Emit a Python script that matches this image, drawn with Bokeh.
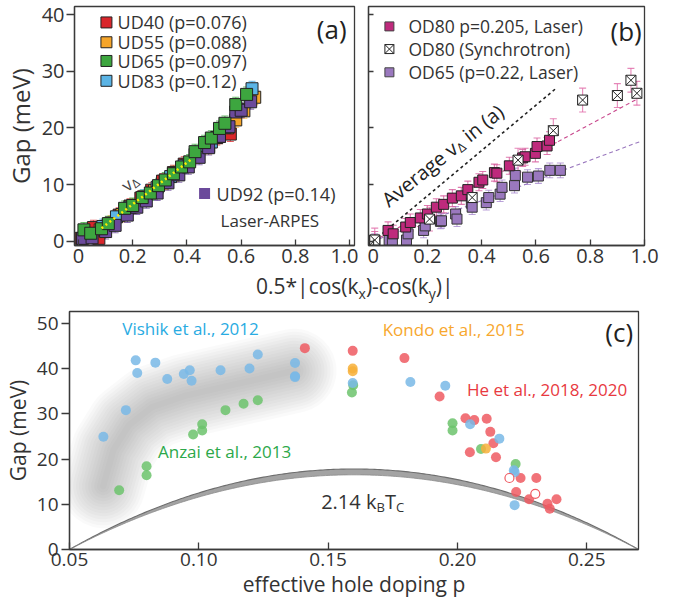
import math
import numpy as np
from bokeh.plotting import figure
from bokeh.layouts import column, row
from bokeh.models import (Range1d, FixedTicker, PrintfTickFormatter, CustomJSTickFormatter,
                          ColumnDataSource, Whisker, TeeHead, Div)
from bokeh.core.properties import value
from bokeh.embed import file_html
from bokeh.resources import INLINE

FONT = "Open Sans"

# ---------------- panel (a) data: gap vs 0.5|cos kx - cos ky| ----------------
ud40_x = [0.01, 0.055, 0.075, 0.11, 0.15, 0.19, 0.23, 0.27, 0.31, 0.35, 0.39, 0.43, 0.47, 0.51, 0.56]
ud40_y = [0.5, 2.4, 0.5, 2.9, 4.6, 6.2, 7.6, 9.0, 10.6, 12.1, 13.6, 15.3, 16.9, 18.3, 18.9]
ud55_x = [0.03, 0.08, 0.12, 0.16, 0.20, 0.24, 0.28, 0.32, 0.36, 0.40, 0.44, 0.48, 0.52, 0.55, 0.58, 0.61, 0.65]
ud55_y = [0.8, 2.0, 3.2, 4.7, 6.1, 7.5, 8.9, 10.4, 11.9, 13.4, 15.0, 16.7, 18.5, 20.0, 21.4, 23.0, 25.4]
ud65_x = [0.02, 0.045, 0.085, 0.11, 0.17, 0.20, 0.235, 0.265, 0.295, 0.32, 0.35, 0.38, 0.41, 0.43,
          0.465, 0.49, 0.52, 0.54, 0.58, 0.62]
ud65_y = [2.0, 1.4, 2.2, 3.1, 5.8, 6.3, 7.7, 8.5, 9.8, 10.8, 11.9, 13.1, 14.0, 15.8,
          17.4, 18.2, 19.9, 20.8, 24.1, 25.9]
ud83_x = [0.04, 0.09, 0.14, 0.19, 0.24, 0.29, 0.34, 0.39, 0.44, 0.49, 0.54, 0.59, 0.64]
ud83_y = [1.0, 2.6, 4.3, 6.0, 7.8, 9.5, 11.4, 13.3, 15.3, 17.5, 20.1, 23.2, 26.9]
ud92_x = [0.015, 0.05, 0.10, 0.135, 0.18, 0.215, 0.25, 0.29, 0.33, 0.37, 0.405, 0.445, 0.48,
          0.52, 0.555, 0.58, 0.60, 0.635]
ud92_y = [0.5, 0.6, 1.7, 2.8, 4.6, 6.0, 7.1, 8.5, 10.3, 11.7, 13.1, 14.8, 16.5,
          18.5, 20.2, 22.8, 23.1, 24.6]
err_a = 1.3
vline_x = [0.085, 0.42]
vline_y = [2.3, 14.6]

# ---------------- panel (b) data ----------------
od80_x = [0.006, 0.055, 0.074, 0.12, 0.137, 0.174, 0.20, 0.233, 0.26, 0.292, 0.325, 0.349, 0.39,
          0.404, 0.447, 0.456, 0.502, 0.551, 0.56, 0.598, 0.604, 0.641, 0.65]
od80_y = [0.2, 1.9, 1.3, 2.5, 3.3, 4.1, 4.8, 6.0, 6.5, 7.6, 8.0, 9.1, 10.4,
          10.8, 12.1, 12.0, 13.3, 14.7, 14.9, 15.5, 16.7, 16.8, 17.8]
od65_x = [0.006, 0.059, 0.071, 0.123, 0.129, 0.186, 0.192, 0.248, 0.252, 0.304, 0.309, 0.362,
          0.365, 0.417, 0.426, 0.468, 0.475, 0.521, 0.524, 0.569, 0.609, 0.651, 0.69]
od65_y = [0.0, 0.2, 0.2, 0.2, 1.3, 1.9, 2.7, 3.5, 3.6, 4.8, 3.9, 6.7,
          6.0, 6.8, 7.7, 8.3, 9.5, 9.8, 11.6, 11.3, 11.5, 12.5, 12.5]
sync_x = [0.006, 0.208, 0.365, 0.534, 0.664, 0.772, 0.90, 0.95, 0.972]
sync_y = [0.2, 3.9, 7.7, 14.3, 19.5, 24.9, 25.7, 28.4, 26.1]
err_od80, err_od65, err_sync = 1.5, 1.3, 2.1
avg_line_x, avg_line_y = [0.0, 0.675], [0.0, 27.0]
od80_fit_x, od80_fit_y = [0.0, 0.985], [0.0, 25.4]
od65_fit_x, od65_fit_y = [0.0, 0.985], [0.0, 17.6]

# ---------------- panel (c) data ----------------
vishik_p = [0.0631, 0.0718, 0.0756, 0.0762, 0.0832, 0.0878, 0.0942, 0.0965, 0.0972, 0.1084, 0.1196,
            0.1228, 0.1372, 0.1372, 0.1372, 0.1595, 0.1818, 0.1953, 0.2049, 0.2162, 0.2218, 0.2221, 0.2221]
vishik_gap = [24.9, 30.8, 41.8, 39.0, 41.3, 37.7, 38.8, 39.6, 37.3, 39.6, 40.0,
              43.1, 41.2, 38.3, 38.1, 36.8, 37.0, 36.2, 27.7, 24.5, 17.5, 17.1, 9.8]
anzai_p = [0.0692, 0.0798, 0.0798, 0.0978, 0.1013, 0.1013, 0.1103, 0.1173, 0.1228, 0.1597, 0.1592,
           0.1981, 0.1981, 0.2091, 0.2225]
anzai_gap = [13.1, 18.4, 16.4, 25.4, 27.7, 26.3, 30.8, 32.2, 33.0, 36.3, 34.7, 27.9, 26.3, 22.2, 18.9]
kondo_p = [0.1595, 0.1595, 0.2110]
kondo_gap = [40.0, 39.4, 22.3]
he_p = [0.141, 0.1595, 0.1795, 0.1931, 0.2031, 0.2065, 0.2113, 0.2127, 0.2139, 0.2048, 0.2149,
        0.2244, 0.2305, 0.2227, 0.2277, 0.2348, 0.2357, 0.2383]
he_gap = [44.5, 43.9, 42.3, 33.8, 29.0, 28.6, 28.9, 26.0, 23.5, 21.5, 20.4,
          15.8, 15.8, 12.7, 11.1, 10.1, 9.0, 11.1]
he_open_p = [0.2201, 0.2301]
he_open_gap = [15.8, 12.3]
blob_p = [0.063, 0.067, 0.073, 0.082, 0.095, 0.11, 0.124, 0.137]
blob_gap = [14.0, 22.0, 27.5, 31.5, 34.0, 36.0, 37.8, 39.5]
KB = 0.08617          # meV/K
TC_MAX = [89.5, 96.5]  # K, band of the 2.14 kB Tc dome
P_MIN, P_MAX = 0.05, 0.27

# ---------------- helpers ----------------
W = {' ': 0.26, '(': 0.296, ')': 0.296, '*': 0.551, ',': 0.246, '-': 0.322, '.': 0.266, '|': 0.551,
     'A': 0.633, 'B': 0.648, 'C': 0.631, 'T': 0.556, 'a': 0.556, 'c': 0.479, 'e': 0.561, 'g': 0.546,
     'i': 0.258, 'k': 0.527, 'n': 0.613, 'o': 0.602, 'r': 0.408, 's': 0.477, 'v': 0.50, 'x': 0.518,
     'y': 0.50, 'Δ': 0.62}
for d in "0123456789":
    W[d] = 0.572


def text_width(s, size):
    return sum(W.get(ch, 0.56) for ch in s) * size


def compose(p, pieces, x0, y0, angle=0.0, xpp=1.0, ypp=1.0, color="#333333"):
    ca, sa = math.cos(angle), math.sin(angle)
    cum = 0.0
    for txt, size, shift in pieces:
        lead = len(txt) - len(txt.lstrip(" "))
        cum += lead * W[" "] * size
        txt = txt.lstrip(" ")
        ox = cum * ca + shift * sa
        oy = cum * sa - shift * ca
        p.text(x=[x0 + ox * xpp], y=[y0 + oy * ypp], text=[txt], angle=angle,
               text_font=value(FONT), text_font_size=f"{size}px", text_color=color,
               text_align="left", text_baseline="alphabetic")
        cum += text_width(txt, size)


def label(p, x, y, txt, size, color="#333333", align="left", angle=0.0):
    p.text(x=[x], y=[y], text=[txt], angle=angle, text_font=value(FONT), text_font_size=f"{size}px",
           text_color=color, text_align=align, text_baseline="middle")


def style(p, tick_size):
    p.xgrid.visible = False
    p.ygrid.visible = False
    p.outline_line_color = "#3a3a3a"
    p.outline_line_width = 1.3
    p.background_fill_color = "white"
    p.border_fill_color = "white"
    for ax in p.axis:
        ax.axis_line_color = "#3a3a3a"
        ax.axis_line_width = 1.3
        ax.major_tick_line_color = "#3a3a3a"
        ax.major_tick_line_width = 1.3
        ax.minor_tick_line_color = None
        ax.major_label_text_font = FONT
        ax.major_label_text_font_size = tick_size
        ax.major_label_text_color = "#333333"
        ax.axis_label_text_font = FONT
        ax.axis_label_text_font_style = "normal"
        ax.axis_label_text_color = "#333333"


def errbars(p, xs, ys, err, color, alpha=0.75, head=7):
    src = ColumnDataSource(dict(x=xs, up=[v + err for v in ys], lo=[v - err for v in ys]))
    w = Whisker(source=src, base="x", upper="up", lower="lo", line_color=color, line_alpha=alpha,
                line_width=1.1,
                upper_head=TeeHead(size=head, line_color=color, line_alpha=alpha, line_width=1.1),
                lower_head=TeeHead(size=head, line_color=color, line_alpha=alpha, line_width=1.1))
    p.add_layout(w)


fmt_01 = CustomJSTickFormatter(code="return tick == 0 ? '0' : tick.toFixed(1);")
yr_ab = Range1d(-0.76, 41.41)
YPP_AB = (41.41 + 0.76) / 239

# ---------------- figure (a) ----------------
pa = figure(frame_width=280, frame_height=239, min_border_left=68, min_border_right=4,
            min_border_top=6, min_border_bottom=31, x_range=Range1d(-0.0148, 1.018), y_range=yr_ab,
            output_backend="svg", toolbar_location=None, title=None)
style(pa, "20px")
pa.xaxis.ticker = FixedTicker(ticks=[0, 0.2, 0.4, 0.6, 0.8, 1.0])
pa.xaxis.formatter = fmt_01
pa.xaxis.major_tick_in = 6
pa.xaxis.major_tick_out = 0
pa.xaxis.major_label_standoff = 3
pa.yaxis.ticker = FixedTicker(ticks=[0, 10, 20, 30, 40])
pa.yaxis.major_tick_in = 0
pa.yaxis.major_tick_out = 8
pa.yaxis.major_label_standoff = 2
pa.yaxis.axis_label = "Gap (meV)"
pa.yaxis.axis_label_text_font_size = "24px"
pa.yaxis.axis_label_standoff = 2

series_a = [(ud40_x, ud40_y, "#d9262b"), (ud55_x, ud55_y, "#f5a52a"), (ud83_x, ud83_y, "#5bb4e5"),
            (ud92_x, ud92_y, "#6b4a9b"), (ud65_x, ud65_y, "#3da63f")]
for xs, ys, c in series_a:
    errbars(pa, xs, ys, err_a, c)
for xs, ys, c in series_a:
    pa.scatter(xs, ys, marker="square", size=12, fill_color=c, line_color="#222222", line_width=1)
pa.line(vline_x, vline_y, line_color="#ffee00", line_width=2.5, line_dash="2 3")

xpp_a = 1.0328 / 280
compose(pa, [("v", 17, 0), ("Δ", 12, 4)], 0.166, 9.48, angle=0.68, xpp=xpp_a, ypp=YPP_AB, color="#444444")
leg_a_y = [38.6, 35.1, 31.8, 28.3]
leg_a_txt = ["UD40 (p=0.076)", "UD55 (p=0.088)", "UD65 (p=0.097)", "UD83 (p=0.12)"]
leg_a_col = ["#d9262b", "#f5a52a", "#3da63f", "#5bb4e5"]
pa.scatter([0.103] * 4, leg_a_y, marker="square", size=11, fill_color=leg_a_col, line_color="#222222")
for yy, t in zip(leg_a_y, leg_a_txt):
    label(pa, 0.144, yy, t, 18)
pa.scatter([0.465], [8.4], marker="square", size=11, fill_color="#6b4a9b", line_color=None)
label(pa, 0.509, 8.4, "UD92 (p=0.14)", 18)
label(pa, 0.524, 3.6, "Laser-ARPES", 17)
label(pa, 0.989, 37.4, "(a)", 26, color="#222222", align="right")

# ---------------- figure (b) ----------------
pb = figure(frame_width=276, frame_height=239, min_border_left=10, min_border_right=39,
            min_border_top=6, min_border_bottom=31, x_range=Range1d(-0.017, 1.0), y_range=yr_ab,
            output_backend="svg", toolbar_location=None, title=None)
style(pb, "20px")
pb.xaxis.ticker = FixedTicker(ticks=[0, 0.2, 0.4, 0.6, 0.8, 1.0])
pb.xaxis.formatter = fmt_01
pb.xaxis.major_tick_in = 6
pb.xaxis.major_tick_out = 0
pb.xaxis.major_label_standoff = 3
pb.yaxis.ticker = FixedTicker(ticks=[0, 10, 20, 30, 40])
pb.yaxis.formatter = CustomJSTickFormatter(code="return '';")
pb.yaxis.major_tick_in = 5
pb.yaxis.major_tick_out = 0
pb.yaxis.major_label_standoff = 0

pb.line(avg_line_x, avg_line_y, line_color="#222222", line_width=1.6, line_dash="3 3")
pb.line(od80_fit_x, od80_fit_y, line_color="#c8478c", line_width=1.1, line_dash="4 3")
pb.line(od65_fit_x, od65_fit_y, line_color="#9a78be", line_width=1.1, line_dash="4 3")
errbars(pb, od65_x, od65_y, err_od65, "#a98bd0", alpha=0.8)
errbars(pb, od80_x, od80_y, err_od80, "#d65b9c", alpha=0.8)
errbars(pb, sync_x, sync_y, err_sync, "#e06aa8", alpha=0.8)
pb.scatter(od65_x, od65_y, marker="square", size=10, fill_color="#9a78be", line_color="#333333")
pb.scatter(od80_x, od80_y, marker="square", size=10, fill_color="#be2a7c", line_color="#222222")
pb.scatter(sync_x, sync_y, marker="square_x", size=10, fill_color="white", line_color="#222222")

xpp_b = 1.017 / 276
compose(pb, [("Average v", 20, 0), ("Δ", 13, 5), (" in (a)", 20, 0)], 0.0415, 6.9,
        angle=0.675, xpp=xpp_b, ypp=YPP_AB, color="#222222")
leg_b_y = [37.9, 33.9, 29.8]
pb.scatter([0.06], [leg_b_y[0]], marker="square", size=9, fill_color="#be2a7c", line_color="#444444")
pb.scatter([0.06], [leg_b_y[1]], marker="square_x", size=9, fill_color="white", line_color="#222222")
pb.scatter([0.06], [leg_b_y[2]], marker="square", size=9, fill_color="#9a78be", line_color="#444444")
for yy, t in zip(leg_b_y, ["OD80 p=0.205, Laser)", "OD80 (Synchrotron)", "OD65 (p=0.22, Laser)"]):
    label(pb, 0.13, yy, t, 17.5)
label(pb, 0.99, 37.0, "(b)", 26, color="#222222", align="right")

# ---------------- shared x label of (a) and (b) ----------------
SUB = "font-size:14px;vertical-align:-5px;line-height:0"
shared_label = Div(
    text=(f"<div style=\"margin-left:256px;white-space:nowrap;font-family:'{FONT}';font-size:21px;"
          f"line-height:20px;color:#333333\">0.5*|cos(k<span style=\"{SUB}\">x</span>)-cos(k"
          f"<span style=\"{SUB}\">y</span>)|</div>"),
    width=677, height=28, margin=0)

# ---------------- figure (c) ----------------
pc = figure(frame_width=569, frame_height=238, min_border_left=68, min_border_right=40,
            min_border_top=7, min_border_bottom=58, x_range=Range1d(P_MIN, P_MAX),
            y_range=Range1d(0, 52.6), output_backend="svg", toolbar_location=None, title=None)
style(pc, "19px")
pc.xaxis.ticker = FixedTicker(ticks=[0.05, 0.10, 0.15, 0.20, 0.25])
pc.xaxis.formatter = PrintfTickFormatter(format="%.2f")
pc.xaxis.major_tick_in = 7
pc.xaxis.major_tick_out = 0
pc.xaxis.major_label_standoff = 3
pc.xaxis.axis_label = "effective hole doping p"
pc.xaxis.axis_label_text_font_size = "21px"
pc.xaxis.axis_label_standoff = 1
pc.yaxis.ticker = FixedTicker(ticks=[0, 10, 20, 30, 40, 50])
pc.yaxis.major_tick_in = 0
pc.yaxis.major_tick_out = 8
pc.yaxis.major_label_standoff = 3
pc.yaxis.axis_label = "Gap (meV)"
pc.yaxis.axis_label_text_font_size = "21px"
pc.yaxis.axis_label_standoff = 2

xpp_c, ypp_c = (P_MAX - P_MIN) / 569, 52.6 / 238

for wdt in range(84, 4, -6):
    pc.line(blob_p, blob_gap, line_color="#8a8a8a", line_alpha=0.04, line_width=wdt,
            line_cap="round", line_join="round")

p_dome = np.linspace(P_MIN, P_MAX, 221)
dome = [np.clip(2.14 * KB * t * (1 - 82.6 * (p_dome - 0.16) ** 2), 0, None) for t in TC_MAX]
pc.varea(x=p_dome, y1=dome[0], y2=dome[1], fill_color="#a3a3a3")
pc.line(p_dome, dome[1], line_color="#6e6e6e", line_width=1.1)
pc.line(p_dome, dome[0], line_color="#8c8c8c", line_width=0.8)

pc.scatter(anzai_p, anzai_gap, marker="circle", size=10, fill_color="#6cc36c", fill_alpha=0.85, line_color=None)
pc.scatter(he_p, he_gap, marker="circle", size=10, fill_color="#ef5a62", fill_alpha=0.85, line_color=None)
pc.scatter(vishik_p, vishik_gap, marker="circle", size=10, fill_color="#79b9e6", fill_alpha=0.85, line_color=None)
pc.scatter(kondo_p, kondo_gap, marker="circle", size=10, fill_color="#f7b03a", fill_alpha=0.85, line_color=None)
pc.scatter(he_open_p, he_open_gap, marker="circle", size=9, fill_color="white", line_color="#ef5a62", line_width=1.2)

label(pc, 0.0704, 48.9, "Vishik et al., 2012", 17, color="#29abe2")
label(pc, 0.1711, 48.6, "Kondo et al., 2015", 17, color="#f7a72e")
label(pc, 0.2037, 35.3, "He et al., 2018, 2020", 17, color="#e8393f")
label(pc, 0.0842, 21.7, "Anzai et al., 2013", 17, color="#2ca84a")
label(pc, 0.2679, 48.1, "(c)", 26, color="#222222", align="right")
compose(pc, [("2.14 k", 20, 0), ("B", 13, 5), ("T", 20, 0), ("C", 13, 5)], 0.1473, 10.6,
        xpp=xpp_c, ypp=ypp_c, color="#333333")

layout = column(row(pa, pb), shared_label, pc)
open("out.html", "w").write(file_html(layout, INLINE))
